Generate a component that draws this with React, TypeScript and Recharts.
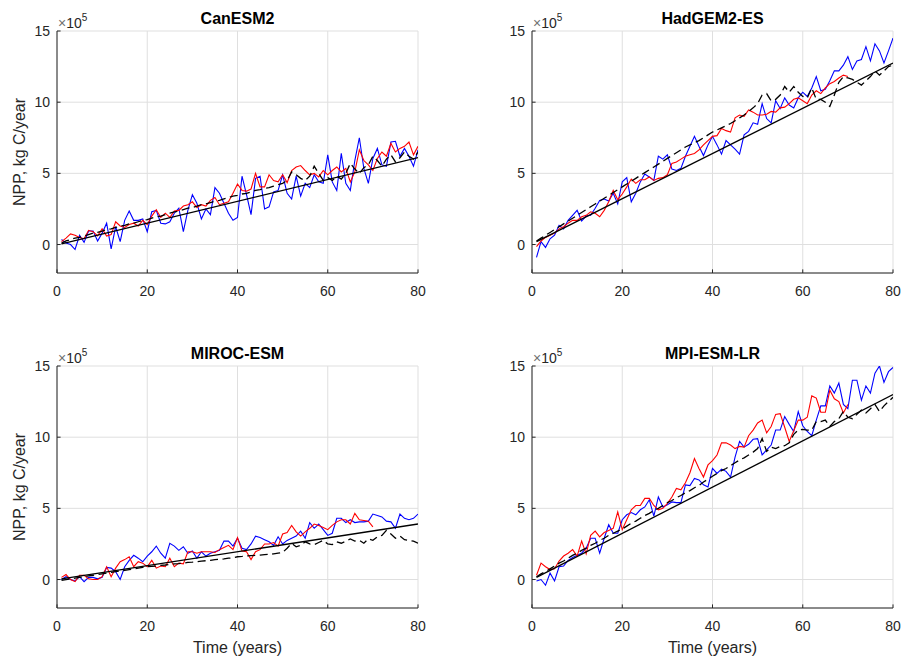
import React from 'react';
import { LineChart, Line, XAxis, YAxis, CartesianGrid } from 'recharts';

// years 1..80
const years: number[] = Array.from({ length: 80 }, (_, i) => i + 1);
const trendYears: number[] = [1, 80];
const xTicks: number[] = [0, 20, 40, 60, 80];
const yTicks: number[] = [0, 5, 10, 15];

// values in units of 1e5 kg C/year
const canBlue: number[] = [
  0.35, 0.1, 0.0, -0.35, 0.65, 0.15, 0.95, 0.95, 0.25, 0.8,
  1.5, -0.3, 1.25, 0.2, 1.7, 2.35, 1.7, 1.7, 1.8, 0.9,
  2.3, 2.4, 1.5, 1.45, 1.6, 2.2, 2.55, 0.9, 2.4, 3.5,
  2.9, 1.8, 2.5, 2.1, 4.0, 3.6, 2.9, 2.2, 1.7, 1.9,
  4.8, 3.5, 2.1, 4.65, 4.8, 2.5, 2.65, 3.7, 3.8, 4.9,
  3.6, 3.2, 4.8, 3.4, 4.3, 4.0, 4.9, 4.4, 4.3, 6.3,
  4.4, 3.8, 6.4, 4.3, 3.8, 5.9, 7.5, 5.35, 4.3, 6.05,
  6.75, 5.6, 5.5, 7.2, 7.25, 6.2, 6.75, 6.2, 5.5, 6.65,
];
const canRed: number[] = [
  0.2, 0.45, 0.75, 0.65, 0.5, 0.4, 1.0, 0.9, 0.6, 1.1,
  0.6, 0.7, 1.6, 1.3, 1.2, 1.4, 1.5, 1.3, 1.7, 1.4,
  2.0, 2.45, 1.9, 2.2, 1.9, 2.35, 2.4, 2.7, 2.8, 3.0,
  2.6, 2.8, 2.7, 3.1, 3.3, 2.8, 2.9, 3.0, 3.6, 4.25,
  3.8, 3.75, 3.9, 5.0, 4.05, 4.05, 4.9, 4.5, 4.4, 4.9,
  4.35, 5.2, 5.45, 5.55, 5.2, 4.9, 5.0, 4.75, 5.2, 4.9,
  5.2, 5.45, 5.1, 5.35, 4.4, 5.1, 6.65, 5.9, 5.6, 5.2,
  6.05, 6.5, 6.2, 7.1, 6.5, 6.75, 6.9, 7.2, 6.3, 6.9,
];
const canDashed: number[] = [
  0.1, 0.25, 0.35, 0.45, 0.5, 0.6, 0.7, 0.8, 0.85, 0.95,
  1.05, 1.1, 1.2, 1.3, 1.35, 1.45, 1.5, 1.6, 1.7, 1.75,
  1.85, 1.95, 2.0, 2.1, 2.2, 2.3, 2.35, 2.45, 2.55, 2.6,
  2.7, 2.8, 2.85, 2.95, 3.05, 3.1, 3.2, 3.3, 3.4, 3.45,
  3.55, 3.6, 3.7, 3.8, 3.85, 3.95, 4.0, 4.1, 4.2, 4.3,
  4.5, 5.1, 4.9, 4.65, 4.5, 4.8, 5.5, 5.0, 4.5, 4.7,
  4.5, 4.8, 4.6, 5.0, 5.7, 5.3, 5.0, 5.4, 5.6, 6.2,
  5.9, 5.5, 6.0, 6.3, 5.8, 6.1, 6.5, 6.2, 6.0, 6.5,
];
const canTrend: number[] = [0.05, 6.1];

const hadBlue: number[] = [
  -0.9, 0.2, -0.2, 0.4, 0.65, 1.35, 1.1, 1.7, 2.05, 2.4,
  1.65, 2.0, 2.05, 2.55, 3.1, 3.2, 3.05, 3.6, 2.85, 4.4,
  4.7, 3.0, 3.6, 4.4, 4.95, 4.75, 4.5, 6.2, 6.0, 6.3,
  5.3, 5.2, 5.35, 6.2, 6.9, 7.6, 6.9, 6.25, 7.0, 7.6,
  7.0, 6.35, 7.3, 7.0, 6.7, 6.35, 7.7, 7.95, 8.55, 8.45,
  9.9, 8.85, 8.55, 10.1, 9.55, 10.3, 9.8, 9.6, 10.3, 10.7,
  10.4, 11.0, 11.8, 10.8, 10.9, 11.5, 12.2, 12.2, 12.6, 13.2,
  12.3, 12.9, 13.0, 13.9, 12.9, 14.1, 13.6, 12.75, 13.6, 14.5,
];
const hadRed: number[] = [
  -0.15, 0.25, 0.5, 0.65, 0.8, 1.1, 1.25, 1.5, 1.7, 1.7,
  1.95, 2.05, 2.3, 2.2, 1.95, 2.4, 3.0, 3.8, 3.15, 3.55,
  4.05, 4.6, 4.3, 4.55, 4.55, 4.75, 4.5, 4.65, 4.7, 4.9,
  5.7, 5.8, 6.0, 6.2, 6.3, 6.4, 6.65, 7.0, 7.3, 7.6,
  7.65, 8.15, 8.0, 7.9, 8.9, 9.1, 9.0, 9.45, 9.3, 9.1,
  9.1, 9.15, 9.35, 9.3, 9.6, 9.65, 9.9, 10.2, 10.3, 10.1,
  9.9, 10.5, 10.8, 10.6, 11.0, 11.3, 11.45, 11.7, 11.9, 11.8,
];
const hadDashed: number[] = [
  0.25, 0.45, 0.65, 0.85, 1.05, 1.25, 1.45, 1.65, 1.85, 2.05,
  2.25, 2.45, 2.65, 2.85, 3.05, 3.25, 3.45, 3.65, 3.85, 4.05,
  4.25, 4.45, 4.65, 4.85, 5.05, 5.25, 5.45, 5.65, 5.85, 6.05,
  6.25, 6.45, 6.65, 6.85, 7.0, 7.15, 7.3, 7.5, 7.7, 7.9,
  8.05, 8.2, 8.35, 8.5, 8.7, 8.9, 9.1, 9.35, 9.6, 9.9,
  10.5, 10.6, 10.1, 10.2, 10.5, 11.1, 10.7, 11.1, 10.7, 10.4,
  10.3, 11.0, 10.2, 10.2, 10.0, 9.7, 10.5, 11.4, 11.8, 11.7,
  11.6, 11.4, 11.2, 11.5, 11.8, 12.2, 11.9, 12.2, 12.5, 12.6,
];
const hadTrend: number[] = [0.2, 12.75];

const mirBlue: number[] = [
  0.0, 0.2, 0.0, -0.1, 0.2, -0.15, 0.15, 0.15, 0.05, 0.15,
  0.85, 0.8, 0.55, 0.0, 0.9, 1.35, 1.7, 1.5, 1.25, 1.65,
  1.95, 2.35, 1.85, 1.5, 2.55, 2.35, 2.05, 2.3, 1.85, 2.0,
  1.5, 1.95, 1.65, 1.85, 1.95, 2.05, 2.7, 2.7, 2.35, 2.9,
  2.2, 2.1, 2.5, 3.05, 2.95, 2.8, 2.65, 2.4, 3.0, 2.5,
  2.75, 2.9, 3.05, 3.4, 2.9, 4.0, 3.6, 3.9, 3.5, 3.1,
  3.25, 4.3, 4.3, 4.0, 4.2, 4.0, 4.05, 4.05, 4.1, 4.6,
  4.5, 4.4, 4.1, 4.05, 3.6, 4.6, 4.3, 4.2, 4.3, 4.6,
];
const mirRed: number[] = [
  0.15, 0.35, 0.0, -0.15, 0.3, 0.3, 0.05, 0.0, 0.0, 0.2,
  0.9, 0.2, 0.8, 1.25, 1.4, 1.6, 0.9, 1.25, 1.15, 0.9,
  1.35, 0.8, 0.95, 0.9, 1.5, 0.9, 1.15, 1.1, 1.95, 1.95,
  1.85, 1.95, 1.95, 1.95, 1.9, 2.1, 2.25, 2.4, 2.1, 2.95,
  2.0, 1.95, 1.4, 1.95, 2.1, 2.5, 2.5, 2.6, 2.35, 3.2,
  3.3, 3.8, 3.35, 3.05, 3.35, 3.6, 3.9, 3.8, 3.65, 3.5,
  3.8, 4.05, 4.2, 4.2, 3.9, 4.65, 4.2, 4.15, 4.1, 3.7,
];
const mirDashed: number[] = [
  -0.05, 0.0, 0.05, 0.1, 0.15, 0.2, 0.25, 0.3, 0.35, 0.4,
  0.45, 0.5, 0.55, 0.6, 0.65, 0.7, 0.75, 0.8, 0.85, 0.9,
  0.92, 0.95, 1.0, 1.02, 1.05, 1.1, 1.12, 1.15, 1.2, 1.22,
  1.25, 1.3, 1.32, 1.35, 1.4, 1.42, 1.45, 1.5, 1.52, 1.6,
  1.62, 1.65, 1.68, 1.7, 1.72, 1.75, 1.78, 1.8, 1.85, 1.9,
  2.2, 2.55, 2.3, 2.4, 2.65, 2.5, 2.45, 2.6, 2.75, 2.5,
  2.45, 2.65, 2.55, 2.7, 2.85, 2.7, 2.75, 2.55, 2.85, 2.75,
  3.0, 3.1, 3.45, 3.2, 2.9, 3.05, 2.8, 2.75, 2.7, 2.55,
];
const mirTrend: number[] = [0.05, 3.9];

const mpiBlue: number[] = [
  -0.1, 0.0, -0.4, 0.45, -0.1, 0.9, 0.95, 1.35, 1.55, 1.7,
  1.85, 2.2, 2.9, 2.9, 1.85, 2.9, 3.85, 3.25, 3.25, 4.2,
  4.55, 4.7, 4.55, 4.9, 5.1, 5.6, 4.45, 5.8, 5.1, 5.25,
  5.45, 5.4, 5.4, 6.65, 6.6, 7.1, 7.0, 6.65, 6.5, 7.8,
  7.45, 7.75, 7.6, 7.2, 8.6, 9.7, 9.3, 9.5, 9.85, 9.9,
  8.75, 9.1, 9.45, 10.5, 10.5, 11.45, 10.9, 10.4, 11.8, 10.8,
  10.4, 10.1, 11.2, 12.2, 12.2, 13.6, 13.1, 13.8, 12.3, 12.0,
  14.0, 14.0, 12.6, 13.6, 13.1, 14.5, 15.0, 13.85, 14.6, 14.9,
];
const mpiRed: number[] = [
  0.3, 1.15, 0.9, 0.7, 0.75, 1.3, 1.65, 1.85, 2.1, 1.65,
  2.7, 1.8, 3.1, 3.4, 3.0, 3.3, 3.45, 3.6, 4.75, 3.5,
  4.2, 4.9, 5.2, 5.2, 5.7, 5.7, 5.2, 4.9, 5.0, 5.35,
  5.8, 6.4, 6.3, 6.8, 7.5, 8.5, 7.8, 7.2, 8.05, 8.35,
  8.75, 9.6, 9.6, 9.45, 9.2, 9.35, 9.3, 10.1, 10.5, 11.0,
  11.2, 10.3, 10.75, 11.6, 11.65, 10.7, 9.7, 10.45, 11.2, 11.2,
  11.4, 12.9, 12.75, 11.75, 11.75, 13.3, 12.7, 12.5, 11.7, 12.3,
];
const mpiDashed: number[] = [
  0.2, 0.4, 0.55, 0.75, 0.95, 1.15, 1.3, 1.5, 1.7, 1.85,
  2.05, 2.2, 2.4, 2.55, 2.75, 2.9, 3.1, 3.25, 3.4, 3.55,
  3.75, 3.95, 4.1, 4.3, 4.5, 4.65, 4.85, 5.0, 5.2, 5.4,
  5.55, 5.75, 5.9, 6.1, 6.25, 6.45, 6.6, 6.85, 7.05, 7.25,
  7.45, 7.65, 7.8, 8.0, 8.2, 8.4, 8.55, 8.75, 8.95, 9.2,
  9.9, 9.0, 9.3, 9.2, 9.35, 9.4, 9.6, 10.2, 10.5, 10.55,
  10.5, 10.5, 11.1, 11.1, 11.2, 10.75, 11.1, 11.3, 11.8, 11.4,
  11.3, 11.6, 11.9, 11.7, 12.0, 12.3, 11.8, 12.2, 12.5, 12.8,
];
const mpiTrend: number[] = [0.15, 13.0];

const FONT = '"Liberation Sans", Arial, Helvetica, sans-serif';
const AXIS = '#262626';
const GRID = '#dfdfdf';

const PLOT_W = 361;
const PLOT_H = 242;
const YAXIS_W = 57;
const MARGIN_TOP = 31;
const MARGIN_RIGHT = 9;
const XAXIS_H = 40;

function buildData(blue: number[], red: number[], dashed: number[], trend: number[]) {
  return years.map((x, i) => {
    const ti = trendYears.indexOf(x);
    return {
      x,
      blue: blue[i] ?? null,
      red: red[i] ?? null,
      dashed: dashed[i] ?? null,
      trend: ti >= 0 ? trend[ti] : null,
    };
  });
}

const XTick = (props: any) => {
  const { x, y, payload } = props;
  return (
    <g>
      <line x1={x} x2={x} y1={y} y2={y - 3.6} stroke={AXIS} strokeWidth={1} />
      <text x={x} y={y + 22.6} textAnchor="middle" fontSize={14} fill={AXIS} fontFamily={FONT}>
        {payload.value}
      </text>
    </g>
  );
};

const YTick = (props: any) => {
  const { x, y, payload } = props;
  return (
    <g>
      <line x1={x} x2={x + 3.6} y1={y} y2={y} stroke={AXIS} strokeWidth={1} />
      <text x={x - 7} y={y} dy="0.36em" textAnchor="end" fontSize={14} fill={AXIS} fontFamily={FONT}>
        {payload.value}
      </text>
    </g>
  );
};

type PanelProps = {
  left: number;
  top: number;
  blue: number[];
  red: number[];
  dashed: number[];
  trend: number[];
};

function Panel({ left, top, blue, red, dashed, trend }: PanelProps) {
  const data = buildData(blue, red, dashed, trend);
  return (
    <div style={{ position: 'absolute', left, top }}>
      <LineChart
        width={YAXIS_W + PLOT_W + MARGIN_RIGHT}
        height={MARGIN_TOP + PLOT_H + XAXIS_H}
        data={data}
        margin={{ top: MARGIN_TOP, right: MARGIN_RIGHT, bottom: 0, left: 0 }}
      >
        <CartesianGrid stroke={GRID} strokeWidth={1} />
        <XAxis
          dataKey="x"
          type="number"
          domain={[0, 80]}
          ticks={xTicks}
          interval={0}
          height={XAXIS_H}
          tickSize={0}
          tickMargin={0}
          tickLine={false}
          axisLine={{ stroke: AXIS, strokeWidth: 1 }}
          tick={<XTick />}
          allowDataOverflow
        />
        <YAxis
          type="number"
          domain={[-2, 15]}
          ticks={yTicks}
          interval={0}
          width={YAXIS_W}
          tickSize={0}
          tickMargin={0}
          tickLine={false}
          axisLine={{ stroke: AXIS, strokeWidth: 1 }}
          tick={<YTick />}
          allowDataOverflow
        />
        <Line dataKey="blue" stroke="#0000ff" strokeWidth={1.1} dot={false} activeDot={false} isAnimationActive={false} />
        <Line dataKey="red" stroke="#ff0000" strokeWidth={1.1} dot={false} activeDot={false} isAnimationActive={false} />
        <Line dataKey="dashed" stroke="#000000" strokeWidth={1.3} strokeDasharray="8 4.5" dot={false} activeDot={false} isAnimationActive={false} />
        <Line dataKey="trend" stroke="#000000" strokeWidth={1.3} connectNulls dot={false} activeDot={false} isAnimationActive={false} />
      </LineChart>
    </div>
  );
}

const panels = [
  { title: 'CanESM2', left: 0, top: 0, blue: canBlue, red: canRed, dashed: canDashed, trend: canTrend },
  { title: 'HadGEM2-ES', left: 475, top: 0, blue: hadBlue, red: hadRed, dashed: hadDashed, trend: hadTrend },
  { title: 'MIROC-ESM', left: 0, top: 335, blue: mirBlue, red: mirRed, dashed: mirDashed, trend: mirTrend },
  { title: 'MPI-ESM-LR', left: 475, top: 335, blue: mpiBlue, red: mpiRed, dashed: mpiDashed, trend: mpiTrend },
];

export default function App() {
  return (
    <div style={{ position: 'absolute', left: 0, top: 0, width: 904, height: 661, background: '#fff', overflow: 'hidden' }}>
      {panels.map((p) => (
        <Panel key={p.title} left={p.left} top={p.top} blue={p.blue} red={p.red} dashed={p.dashed} trend={p.trend} />
      ))}
      <svg width={904} height={661} style={{ position: 'absolute', left: 0, top: 0, pointerEvents: 'none' }}>
        {panels.map((p) => {
          const px = p.left + YAXIS_W;
          const py = p.top + MARGIN_TOP;
          const cx = px + PLOT_W / 2;
          return (
            <g key={p.title} fontFamily={FONT}>
              <text x={cx} y={py - 7} textAnchor="middle" fontSize={16} fontWeight="bold" fill="#000">
                {p.title}
              </text>
              <text x={px + 1} y={py - 2.7} fontSize={14} fill={AXIS}>
                <tspan fill="#707070">×</tspan>10<tspan fontSize={10} dy={-7.6}>5</tspan>
              </text>
              {p.left === 0 && (
                <text
                  transform={`translate(24.5, ${py + PLOT_H / 2}) rotate(-90)`}
                  textAnchor="middle"
                  fontSize={16}
                  fill={AXIS}
                >
                  NPP, kg C/year
                </text>
              )}
              {p.top > 0 && (
                <text x={cx} y={653} textAnchor="middle" fontSize={16} fill={AXIS}>
                  Time (years)
                </text>
              )}
            </g>
          );
        })}
      </svg>
    </div>
  );
}
